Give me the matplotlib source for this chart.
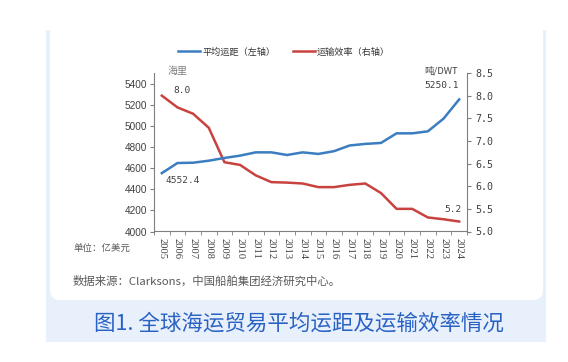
import matplotlib
matplotlib.use("Agg")
import matplotlib.pyplot as plt
from matplotlib.patches import FancyBboxPatch, Rectangle
from matplotlib.lines import Line2D
import numpy as np

plt.rcParams['font.family'] = ['Noto Sans CJK SC', 'DejaVu Sans']

years = ['2005', '2006', '2007', '2008', '2009', '2010', '2011', '2012', '2013', '2014',
         '2015', '2016', '2017', '2018', '2019', '2020', '2021', '2022', '2023', '2024']
avg_distance = [4552.4, 4648, 4651, 4670, 4696, 4718, 4749, 4749, 4724, 4749,
                4734, 4760, 4814, 4829, 4838, 4929, 4929, 4948, 5068, 5250.1]
efficiency = [8.0, 7.74, 7.60, 7.29, 6.53, 6.47, 6.24, 6.09, 6.08, 6.06,
              5.98, 5.98, 6.03, 6.06, 5.85, 5.50, 5.50, 5.31, 5.27, 5.22]
left_ticks = [4000, 4200, 4400, 4600, 4800, 5000, 5200, 5400]
right_ticks = [5.0, 5.5, 6.0, 6.5, 7.0, 7.5, 8.0, 8.5]

W, H = 568, 362
fig = plt.figure(figsize=(W / 100, H / 100), dpi=100)
fig.patch.set_facecolor('white')

# background panels (pixel coordinates)
bg = fig.add_axes([0, 0, 1, 1])
bg.set_xlim(0, W)
bg.set_ylim(H, 0)
bg.axis('off')
bg.add_patch(Rectangle((46, 30), 500, 312, facecolor='#e8f0fc', edgecolor='none'))
bg.add_patch(FancyBboxPatch((50, 15), 493, 285, boxstyle='round,pad=0,rounding_size=10',
                            facecolor='white', edgecolor='none'))
bg.text(298.5, 324, '图1. 全球海运贸易平均运距及运输效率情况', fontsize=15.5,
        color='#2a62c4', ha='center', va='center', fontweight='medium')
bg.text(73, 249, '单位：亿美元', fontsize=6.8, color='#595959', ha='left', va='center')
bg.text(73, 281, '数据来源：Clarksons，中国船舶集团经济研究中心。', fontsize=8.2,
        color='#595959', ha='left', va='center')
bg.text(168, 71, '海里', fontsize=7.2, color='#7f7f7f', ha='left', va='center')
bg.text(458, 71, '吨/DWT', fontsize=6.8, color='#404040', ha='right', va='center')

blue = '#3a7dc0'
red = '#c8423f'

ax = fig.add_axes([154 / W, 1 - 231.5 / H, (467 - 154) / W, (231.5 - 73) / H])
ax.set_zorder(2)
ax.patch.set_alpha(0)
x = np.arange(len(years))
ax.plot(x, avg_distance, color=blue, lw=1.8, solid_joinstyle='round')
ax.set_xlim(-0.5, len(years) - 0.5)
ax.set_ylim(4000, 5500)
ax.set_yticks(left_ticks)
ax.set_xticks(x)
ax.set_xticklabels(years, rotation=-90, fontsize=7.6, family='Liberation Serif', color='#404040')
ax.set_xticks(np.arange(-0.5, len(years)), minor=True)
ax.tick_params(axis='x', which='major', length=0, pad=5)
ax.tick_params(axis='x', which='minor', length=3, direction='out', color='#7f7f7f')
ax.tick_params(axis='y', length=3, direction='out', color='#7f7f7f', labelsize=7.2,
               labelcolor='#404040', pad=2)
for lbl in ax.get_yticklabels():
    lbl.set_family('Liberation Sans')
for s in ['top', 'right']:
    ax.spines[s].set_visible(False)
for s in ['left', 'bottom']:
    ax.spines[s].set_color('#7f7f7f')
    ax.spines[s].set_linewidth(0.8)

ax2 = ax.twinx()
ax2.set_zorder(1)
ax2.plot(x, efficiency, color=red, lw=1.8, solid_joinstyle='round')
ax2.set_ylim(5.0, 8.5)
ax2.set_yticks(right_ticks)
ax2.set_yticklabels([f'{v:.1f}' for v in right_ticks], family='DejaVu Sans Mono',
                    fontsize=7.2, color='#404040')
ax2.tick_params(axis='y', length=3, direction='out', color='#7f7f7f', pad=3)
for s in ['top', 'left', 'bottom']:
    ax2.spines[s].set_visible(False)
ax2.spines['right'].set_color('#7f7f7f')
ax2.spines['right'].set_linewidth(0.8)

mono = dict(family='DejaVu Sans Mono', fontsize=6.8, color='#404040')
ax2.annotate(f'{efficiency[0]:.1f}', (x[0], efficiency[0]), xytext=(12, 1),
             textcoords='offset pixels', ha='left', va='bottom', **mono)
ax.annotate(f'{avg_distance[0]:.1f}', (x[0], avg_distance[0]), xytext=(4, -7),
            textcoords='offset pixels', ha='left', va='center', **mono)
ax.annotate(f'{avg_distance[-1]:.1f}', (x[-1], avg_distance[-1]), xytext=(0, 14),
            textcoords='offset pixels', ha='right', va='center', **mono)
ax2.annotate(f'{efficiency[-1]:.1f}', (x[-1], efficiency[-1]), xytext=(2, 12),
             textcoords='offset pixels', ha='right', va='center', **mono)

handles = [Line2D([], [], color=blue, lw=1.8), Line2D([], [], color=red, lw=1.8)]
fig.legend(handles, ['平均运距（左轴）', '运输效率（右轴）'], loc='center',
           bbox_to_anchor=(284 / W, 1 - 52 / H), ncol=2, frameon=False, fontsize=6.6,
           handlelength=2.4, handletextpad=0.2, columnspacing=1.9, labelcolor='#333333')

fig.savefig('out.png', dpi=100)
